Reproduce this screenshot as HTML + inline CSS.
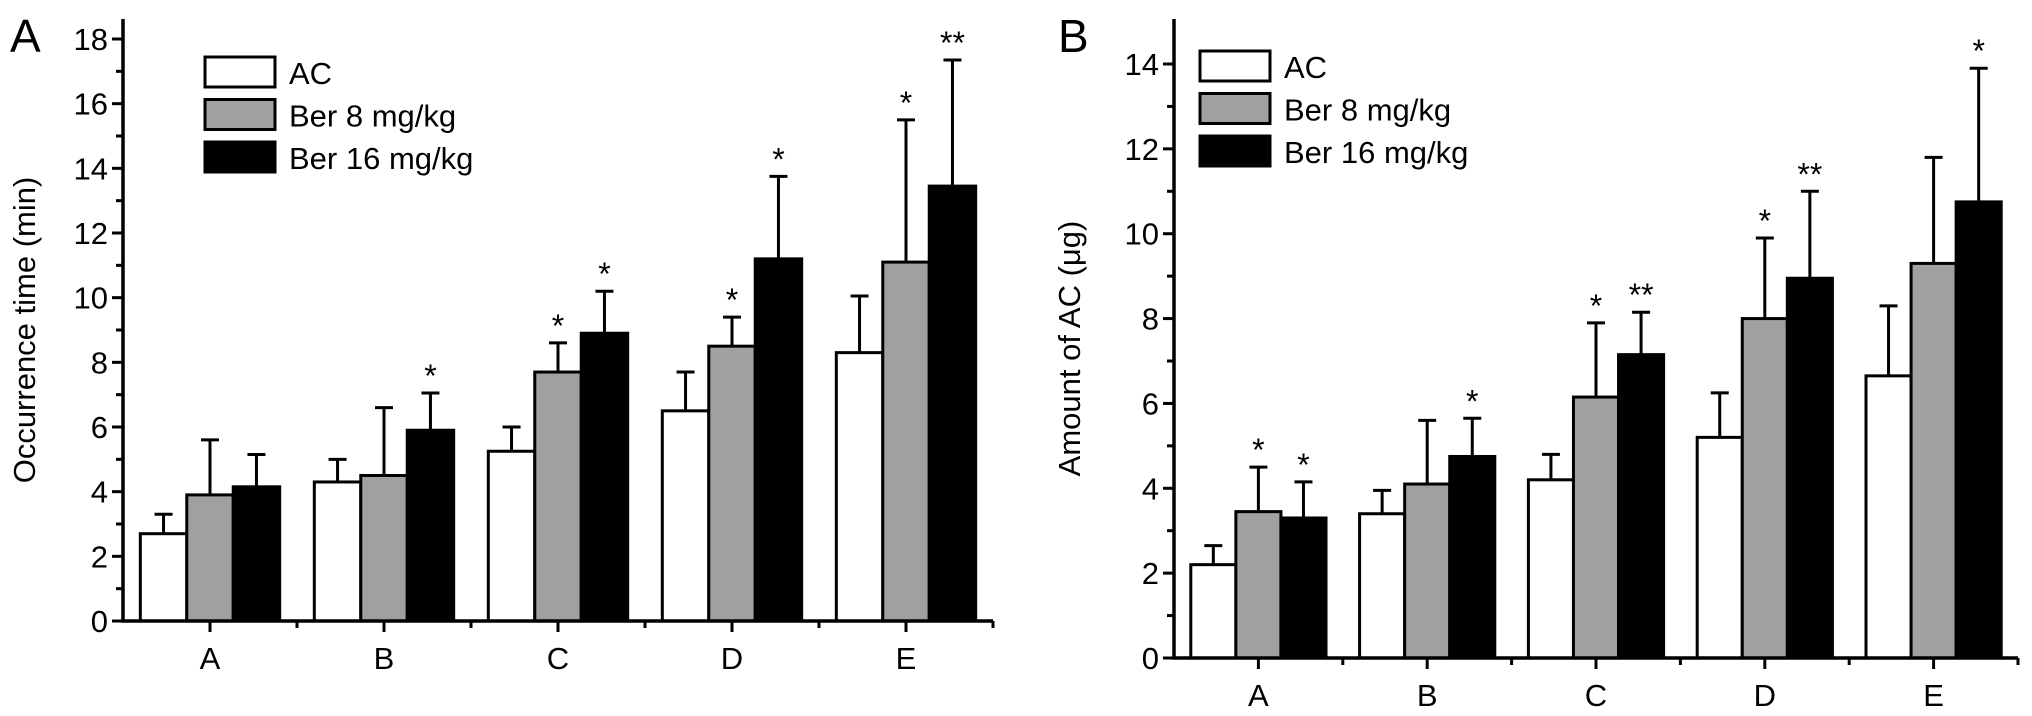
<!DOCTYPE html>
<html><head><meta charset="utf-8"><style>
html,body{margin:0;padding:0;background:#fff;}
svg{display:block;font-family:"Liberation Sans",Arial,sans-serif;}
</style></head><body>
<svg id="fig" width="2032" height="716" viewBox="0 0 2032 716"></svg>
<script>
const categories = ["A","B","C","D","E"];
const seriesNames = ["AC","Ber 8 mg/kg","Ber 16 mg/kg"];
// Panel A (occurrence time, min)
const aMeanAC = [2.7,4.3,5.25,6.5,8.3];
const aMeanB8 = [3.9,4.5,7.7,8.5,11.1];
const aMeanB16 = [4.15,5.9,8.9,11.2,13.45];
const aErrAC = [0.6,0.7,0.75,1.2,1.75];
const aErrB8 = [1.7,2.1,0.9,0.9,4.4];
const aErrB16 = [1.0,1.15,1.3,2.55,3.9];
const aStarB8 = ["","","*","*","*"];
const aStarB16 = ["","*","*","*","**"];
const aTicks = [0,2,4,6,8,10,12,14,16,18];
// Panel B (amount of AC, ug)
const bMeanAC = [2.2,3.4,4.2,5.2,6.65];
const bMeanB8 = [3.45,4.1,6.15,8.0,9.3];
const bMeanB16 = [3.3,4.75,7.15,8.95,10.75];
const bErrAC = [0.45,0.55,0.6,1.05,1.65];
const bErrB8 = [1.05,1.5,1.75,1.9,2.5];
const bErrB16 = [0.85,0.9,1.0,2.05,3.15];
const bStarAC = ["","","","",""];
const bStarB8 = ["*","","*","*",""];
const bStarB16 = ["*","*","**","**","*"];
const bTicks = [0,2,4,6,8,10,12,14];

const NS="http://www.w3.org/2000/svg";
const svg=document.getElementById('fig');
function mk(tag,attrs,parent,text){const e=document.createElementNS(NS,tag);for(const k in attrs)e.setAttribute(k,attrs[k]);if(text!==undefined)e.textContent=text;(parent||svg).appendChild(e);return e;}
const fills=["#ffffff","#a0a0a0","#000000"];

function panel(cfg){
  const g=mk('g',{});
  
  
  const x0=cfg.x0,x1=cfg.x1,y0=cfg.y0,yTop=cfg.yTop,ymax=cfg.ymax;
  const yScale=v=>y0-(v/ymax)*(y0-cfg.yMaxPx);
  const n=categories.length, gw=(x1-x0)/n, bw=gw*0.267;
  const xCenter=i=>x0+gw*(i+0.5);
  const means=cfg.means, errs=cfg.errs, stars=cfg.stars;
  for(let i=0;i<n;i++){
    for(let s=0;s<3;s++){
      const bx=xCenter(i)-1.5*bw+s*bw;
      const top=yScale(means[s][i]);
      const r=mk('rect',{x:bx,y:top,width:bw,height:y0-top,fill:fills[s],stroke:'#000','stroke-width':3},g);
      
      
      const cx=bx+bw/2, et=yScale(means[s][i]+errs[s][i]);
      const el=mk('path',{d:`M${cx},${top} V${et} M${cx-9},${et} H${cx+9}`,stroke:'#000','stroke-width':3,fill:'none'},g);
      
      
      if(stars[s][i]){
        const t=mk('text',{x:cx,y:et-6,'font-size':32,'text-anchor':'middle',fill:'#000'},g,stars[s][i]);
        
        
      }
    }
  }
  const ax=mk('path',{d:`M${x0},${yTop} V${y0} H${x1}`,stroke:'#000','stroke-width':3.5,fill:'none'},g);
  
  
  const step=cfg.ticks[1]-cfg.ticks[0];
  for(let v=0;v<=ymax+1e-9;v+=step/2){
    const yy=yScale(v), major=Math.abs(v/step-Math.round(v/step))<1e-6;
    mk('line',{x1:x0-(major?11:7),x2:x0,y1:yy,y2:yy,stroke:'#000','stroke-width':3},g);
  }
  cfg.ticks.forEach(v=>{
    const t=mk('text',{x:x0-15,y:yScale(v)+11,'font-size':31,'text-anchor':'end'},g,String(v));
    
    
  });
  for(let i=0;i<n;i++){
    mk('line',{x1:xCenter(i),x2:xCenter(i),y1:y0,y2:y0+11,stroke:'#000','stroke-width':3},g);
    mk('line',{x1:x0+gw*(i+1),x2:x0+gw*(i+1),y1:y0,y2:y0+7,stroke:'#000','stroke-width':3},g);
    const t=mk('text',{x:xCenter(i),y:y0+48,'font-size':31,'text-anchor':'middle'},g,categories[i]);
    
    
  }
  const yt=mk('text',{x:0,y:0,'font-size':31,'text-anchor':'middle',transform:`translate(${cfg.ytX},${(yTop+y0)/2+10}) rotate(-90)`},g,cfg.ytitle);
  
  
  const pl=mk('text',{x:cfg.letterX,y:52,'font-size':46},g,cfg.letter);
  
  
  for(let s=0;s<3;s++){
    const ly=cfg.legY+s*42.5;
    const lr=mk('rect',{x:cfg.legX,y:ly,width:70,height:30,fill:fills[s],stroke:'#000','stroke-width':3},g);
    
    
    const lt=mk('text',{x:cfg.legX+84,y:ly+27,'font-size':31},g,seriesNames[s]);
    
    
  }
}
panel({name:'panel-a',key:'a',x0:123,x1:993,y0:621,yTop:19,ymax:18,yMaxPx:39,ticks:aTicks,
  means:[aMeanAC,aMeanB8,aMeanB16],errs:[aErrAC,aErrB8,aErrB16],stars:[["","","","",""],aStarB8,aStarB16],
  ytitle:'Occurrence time (min)',ytX:35,letter:'A',letterX:10,legX:205,legY:57});
panel({name:'panel-b',key:'b',x0:1174,x1:2018,y0:658,yTop:19,ymax:14,yMaxPx:64,ticks:bTicks,
  means:[bMeanAC,bMeanB8,bMeanB16],errs:[bErrAC,bErrB8,bErrB16],stars:[bStarAC,bStarB8,bStarB16],
  ytitle:'Amount of AC (\u03bcg)',ytX:1080,letter:'B',letterX:1058,legX:1200,legY:51});
</script>
</body></html>
